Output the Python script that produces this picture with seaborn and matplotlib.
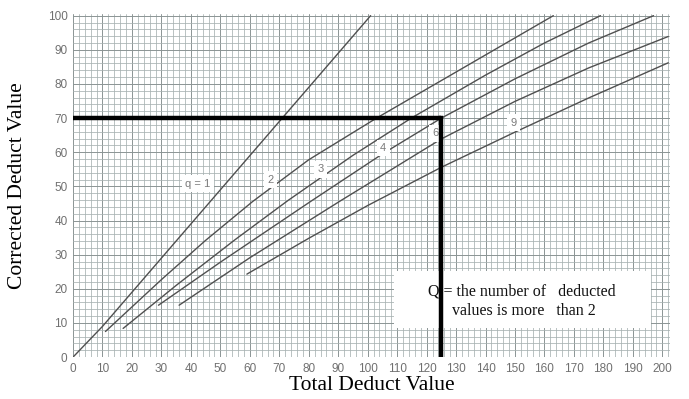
import numpy as np
import pandas as pd
import matplotlib
matplotlib.use("Agg")
import matplotlib.pyplot as plt
import seaborn as sns

# Corrected deduct value curves, one per q (number of deducts > 2)
q_labels = ["q = 1", "2", "3", "4", "6", "9"]

q1_tdv = [0, 10, 46, 71, 101]
q1_cdv = [0, 9, 45, 70, 100]

q2_tdv = [11, 30, 45, 61, 80, 103, 130, 163]
q2_cdv = [7.5, 22.7, 34.2, 45.6, 57.8, 70, 83.5, 100]

q3_tdv = [17, 35, 55, 73, 95, 115, 140, 160, 179]
q3_cdv = [8.4, 21.0, 34.4, 45.9, 59.1, 70.1, 82.6, 92, 100]

q4_tdv = [29, 50, 81, 105, 125, 150, 175, 197]
q4_cdv = [15.2, 27.8, 45.8, 59.5, 70, 81.5, 92, 100]

q6_tdv = [36, 60, 91, 125, 150, 175, 202]
q6_cdv = [15.2, 29.1, 45.9, 63.9, 74.9, 84.7, 93.9]

q9_tdv = [59, 80, 100, 125, 150, 175, 202]
q9_cdv = [24.3, 34.8, 44.4, 55.6, 65.9, 75.9, 86.2]

# Reading for the worked example
example_tdv = 125
example_cdv = 70

x_ticks = list(range(0, 201, 10))
y_ticks = list(range(0, 101, 10))

curves = [(q1_tdv, q1_cdv), (q2_tdv, q2_cdv), (q3_tdv, q3_cdv),
          (q4_tdv, q4_cdv), (q6_tdv, q6_cdv), (q9_tdv, q9_cdv)]
df = pd.concat(
    [pd.DataFrame({"TDV": t, "CDV": c, "q": lab})
     for lab, (t, c) in zip(q_labels, curves)],
    ignore_index=True)

sns.set_theme(style="white")
plt.rcParams["font.family"] = ["Liberation Sans", "DejaVu Sans"]
SERIF = ["Liberation Serif", "DejaVu Serif"]

fig = plt.figure(figsize=(6.89, 3.99), dpi=100)
ax = fig.add_axes([0.106, 0.105, 0.866, 0.86])

# graph-paper grid
ax.set_xticks(x_ticks)
ax.set_yticks(y_ticks)
ax.set_xticks(np.arange(0, 203, 2), minor=True)
ax.set_yticks(np.arange(0, 101, 2), minor=True)
ax.grid(which="minor", color="#a7b1b1", linewidth=0.55)
ax.grid(which="major", color="#8b9494", linewidth=0.7)
ax.set_axisbelow(True)

sns.lineplot(data=df, x="TDV", y="CDV", hue="q", units="q", estimator=None,
             sort=False, palette=["#505050"] * len(q_labels), linewidth=1.0,
             legend=False, ax=ax)

# curve labels
label_pos = [(42.4, 50.8), (66.9, 52.0), (83.9, 55.0), (105.3, 61.2),
             (123.0, 65.5), (149.4, 68.7)]
for lab, (lx, ly) in zip(q_labels, label_pos):
    ax.text(lx, ly, lab, fontsize=8, color="#7a7a7a", ha="center", va="center",
            bbox=dict(boxstyle="square,pad=0.3", fc="white", ec="none"),
            zorder=4)

# note box
ax.add_patch(plt.Rectangle((109, 8.5), 87, 16.6, facecolor="white",
                           edgecolor="none", zorder=5))
ax.text(120.5, 19.2, "Q = the number of   deducted", fontsize=11.5,
        family=SERIF, color="#111111", va="center", ha="left", zorder=6)
ax.text(128.5, 13.5, "values is more   than 2", fontsize=11.5,
        family=SERIF, color="#111111", va="center", ha="left", zorder=6)

# example reading
ax.plot([0, example_tdv], [example_cdv, example_cdv], color="black",
        linewidth=3.2, solid_capstyle="butt", zorder=7)
ax.plot([example_tdv, example_tdv], [0, example_cdv], color="black",
        linewidth=3.2, solid_capstyle="projecting", zorder=7)

ax.set_xlim(0, 202.5)
ax.set_ylim(0, 100.5)
ax.tick_params(axis="both", which="both", length=0, labelsize=8.5,
               labelcolor="#707070", pad=4)
for s in ax.spines.values():
    s.set_visible(False)

ax.set_xlabel("Total Deduct Value", fontsize=15.5, family=SERIF,
              color="black", labelpad=1)
ax.set_ylabel("Corrected Deduct Value", fontsize=15.5, family=SERIF,
              color="black", labelpad=15)

fig.savefig("out.png", dpi=100)
